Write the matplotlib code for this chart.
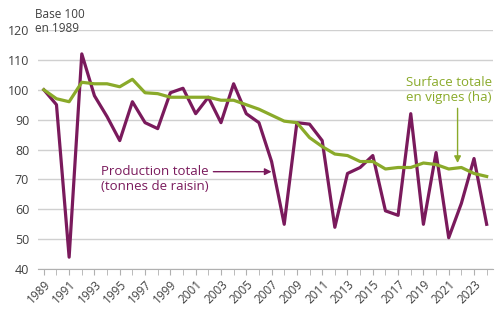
import matplotlib
matplotlib.use('Agg')
import matplotlib.pyplot as plt
from matplotlib.ticker import MultipleLocator

years = list(range(1989, 2025))

# production totale (tonnes de raisin), base 100 en 1989
production = [100, 95, 44, 112, 98, 91, 83, 96, 89, 87,
              99, 100.5, 92, 97.5, 89, 102, 92, 89, 76, 55,
              89, 88.5, 83, 54, 72, 74, 78, 59.5, 58, 92,
              55, 79, 50.5, 62, 77, 55]

# surface totale en vignes (ha), base 100 en 1989
surface = [100, 97, 96, 102.5, 102, 102, 101, 103.5, 99, 98.7,
           97.5, 97.5, 97.5, 97.5, 96.5, 96.5, 95, 93.5, 91.5, 89.5,
           89, 84, 81, 78.5, 78, 76, 76, 73.5, 74, 74,
           75.5, 75, 73.5, 74, 72, 71]

tick_years = list(range(1989, 2024, 2))

purple = '#7a1a5c'
green = '#8aaa2a'
text_col = '#404040'

plt.rcParams['font.family'] = ['Open Sans', 'DejaVu Sans']

fig = plt.figure(figsize=(5, 3.09), dpi=100)
ax = fig.add_axes([0.075, 0.129, 0.911, 0.774])

ax.plot(years, production, color=purple, lw=2.3, zorder=3)
ax.plot(years, surface, color=green, lw=2.3, zorder=4)

ax.set_xlim(1988.5, 2024.5)
ax.set_ylim(40, 120)
ax.yaxis.set_major_locator(MultipleLocator(10))
ax.set_xticks(tick_years)
ax.set_xticklabels([str(y) for y in tick_years], rotation=45, ha='right',
                   rotation_mode='anchor')
ax.xaxis.set_minor_locator(MultipleLocator(1))

ax.grid(axis='y', color='#d0d0d0', lw=1)
ax.set_axisbelow(True)
for s in ['left', 'right', 'top']:
    ax.spines[s].set_visible(False)
ax.spines['bottom'].set_color('#b0b0b0')
ax.tick_params(axis='y', length=0, labelsize=9, colors=text_col, pad=6)
ax.tick_params(axis='x', which='both', length=4, color='#b0b0b0',
               labelsize=8.5, labelcolor=text_col, pad=2)

fig.text(0.07, 0.975, 'Base 100\nen 1989', fontsize=8.5, color=text_col,
         va='top', ha='left', linespacing=1.1)

# labels + arrows
ax.text(1993.5, 70.1, 'Production totale\n(tonnes de raisin)', color=purple,
        fontsize=9.5, va='center', ha='left', linespacing=1.15)
ax.annotate('', xy=(2007.0, 72.6), xytext=(2002.4, 72.6),
            arrowprops=dict(arrowstyle='-|>', color=purple, lw=1,
                            shrinkA=0, shrinkB=0))

ax.text(2017.6, 99.9, 'Surface totale\nen vignes (ha)', color=green,
        fontsize=9.5, va='center', ha='left', linespacing=1.15)
ax.annotate('', xy=(2021.7, 75.5), xytext=(2021.7, 93.8),
            arrowprops=dict(arrowstyle='-|>', color=green, lw=1,
                            shrinkA=0, shrinkB=0))

fig.savefig('out.png', dpi=100)
